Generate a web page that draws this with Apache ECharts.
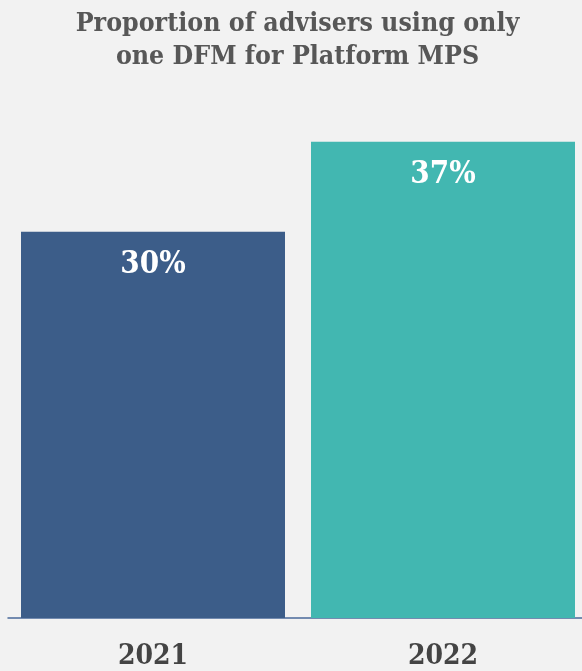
<!DOCTYPE html>
<html><head><meta charset="utf-8">
<script src="https://cdn.jsdelivr.net/npm/echarts@6/dist/echarts.min.js"></script>
<style>html,body{margin:0;padding:0;background:#f2f2f2;}#c{width:582px;height:671px;}</style>
</head><body><div id="c"></div>
<script>
const categories = ['2021', '2022'];
const values = [30, 37];
const barColors = ['#3c5d89', '#42b7b1'];
const titleText = 'Proportion of advisers using only\none DFM for Platform MPS';
const FONT = '"DejaVu Serif Condensed", "Liberation Serif", serif';
const chart = echarts.init(document.getElementById('c'), null, {renderer: 'canvas'});
chart.setOption({
  backgroundColor: '#f2f2f2',
  animation: false,
  title: {
    text: titleText, left: 297.5, top: 8, padding: 0, textAlign: 'center',
    textStyle: {fontFamily: FONT, fontWeight: 'bold', fontSize: 26.5, color: '#575757', lineHeight: 33}
  },
  grid: {left: 8, width: 580, top: 103, bottom: 53, containLabel: false, outerBoundsMode: 'none'},
  xAxis: {
    type: 'category', data: categories,
    axisLine: {lineStyle: {color: '#4a6a9a', width: 1.5}},
    axisTick: {show: false},
    axisLabel: {fontFamily: FONT, fontWeight: 'bold', fontSize: 28, color: '#444444', margin: 25}
  },
  yAxis: {type: 'value', min: 0, max: 40, show: false, splitLine: {show: false}},
  series: [{
    type: 'bar', barWidth: 264,
    data: values.map((v, i) => ({value: v, itemStyle: {color: barColors[i]}})),
    label: {
      show: true, position: 'insideTop', distance: 18,
      formatter: p => p.value + '%',
      fontFamily: FONT, fontWeight: 'bold', fontSize: 31, color: '#ffffff'
    }
  }]
});
</script></body></html>
